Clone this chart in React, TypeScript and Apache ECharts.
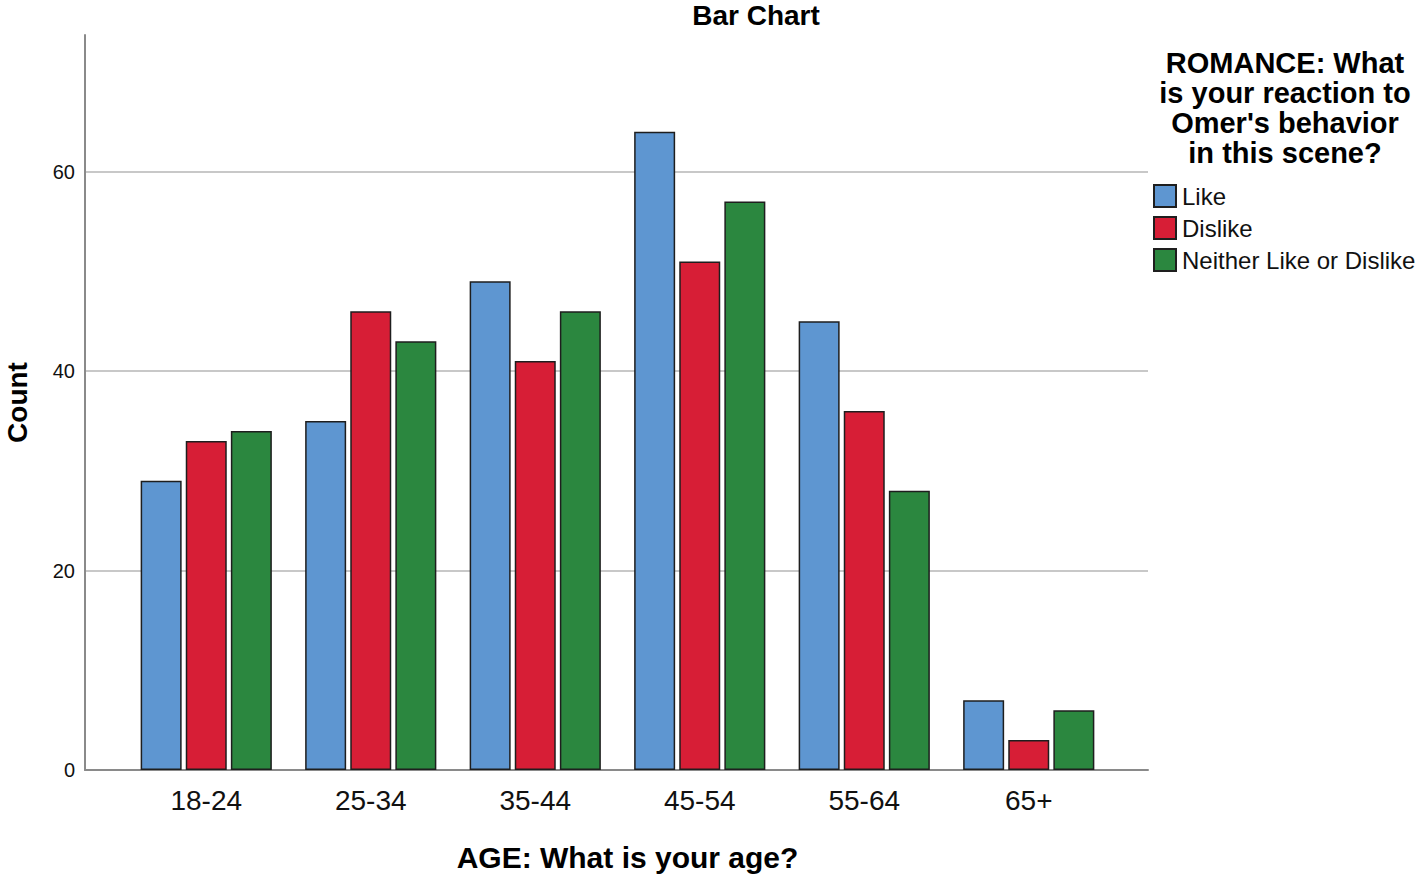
import React, { useEffect, useRef } from "react";
import * as echarts from "echarts";

const categories = ["18-24", "25-34", "35-44", "45-54", "55-64", "65+"];
const seriesNames = ["Like", "Dislike", "Neither Like or Dislike"];
const likeValues = [29, 35, 49, 64, 45, 7];
const dislikeValues = [33, 46, 41, 51, 36, 3];
const neitherValues = [34, 43, 46, 57, 28, 6];
const seriesColors = ["#5e96d1", "#d71e36", "#2b873f"];
const yTicks = { min: 0, max: 73.7, interval: 20 };
const chartTitle = "Bar Chart";
const legendTitle = "ROMANCE: What\nis your reaction to\nOmer's behavior\nin this scene?";
const xName = "AGE: What is your age?";
const yName = "Count";

const FONT = "'Liberation Sans', Arial, sans-serif";

export default function App() {
  const ref = useRef<HTMLDivElement>(null);
  useEffect(() => {
    if (!ref.current) return;
    const chart = echarts.init(ref.current, undefined, { renderer: "svg" });
    const values = [likeValues, dislikeValues, neitherValues];
    chart.setOption({
      animation: false,
      backgroundColor: "#ffffff",
      textStyle: { fontFamily: FONT },
      grid: [
        { left: 85, right: 269, top: 35, bottom: 106, outerBoundsMode: "none", containLabel: false },
        { left: 124, right: 306, top: 35, bottom: 106, outerBoundsMode: "none", containLabel: false },
      ],
      xAxis: [
        {
          type: "value",
          gridIndex: 0,
          min: 0,
          max: 1,
          axisLine: { show: true, lineStyle: { color: "#8a8a8a", width: 2 } },
          axisTick: { show: false },
          axisLabel: { show: false },
          splitLine: { show: false },
          name: xName,
          nameLocation: "middle",
          nameGap: 72,
          nameTextStyle: {
            fontSize: 30,
            fontWeight: "bold",
            color: "#000",
            fontFamily: FONT,
            padding: [0, 0, 0, 22],
          },
        },
        {
          type: "category",
          gridIndex: 1,
          data: categories,
          axisLine: { show: false },
          axisTick: { show: false },
          axisLabel: { fontSize: 28, color: "#111", margin: 16, fontFamily: FONT },
        },
      ],
      yAxis: [
        {
          type: "value",
          gridIndex: 0,
          min: yTicks.min,
          max: yTicks.max,
          interval: yTicks.interval,
          axisLine: { show: true, lineStyle: { color: "#8a8a8a", width: 2 } },
          axisTick: { show: false },
          axisLabel: { fontSize: 20, color: "#111", margin: 10, showMaxLabel: false, fontFamily: FONT },
          splitLine: {
            show: true,
            showMinLine: false,
            showMaxLine: false,
            lineStyle: { color: "#c8c8c8", width: 2 },
          },
          name: yName,
          nameLocation: "middle",
          nameRotate: 90,
          nameGap: 54,
          nameTextStyle: { fontSize: 28, fontWeight: "bold", color: "#000", fontFamily: FONT },
        },
        {
          type: "value",
          gridIndex: 1,
          min: yTicks.min,
          max: yTicks.max,
          interval: yTicks.interval,
          show: false,
          splitLine: { show: false },
        },
      ],
      legend: {
        orient: "vertical",
        left: 1153,
        top: 184,
        padding: 0,
        itemWidth: 22,
        itemHeight: 22,
        itemGap: 8,
        icon: "rect",
        data: seriesNames,
        textStyle: { fontSize: 24, color: "#111", fontFamily: FONT, padding: [0, 0, 0, 1] },
      },
      graphic: [
        {
          type: "text",
          x: 756,
          y: 15,
          style: {
            text: chartTitle,
            fontSize: 28,
            fontWeight: "bold",
            fill: "#000",
            fontFamily: FONT,
            align: "center",
            verticalAlign: "middle",
          },
        },
        {
          type: "text",
          x: 1285,
          y: 48,
          style: {
            text: legendTitle,
            fontSize: 29,
            lineHeight: 30,
            fontWeight: "bold",
            fill: "#000",
            fontFamily: FONT,
            align: "center",
            verticalAlign: "top",
          },
        },
      ],
      series: seriesNames.map((name, i) => ({
        name,
        type: "bar",
        xAxisIndex: 1,
        yAxisIndex: 1,
        data: values[i],
        barWidth: 41,
        barGap: "10%",
        itemStyle: { color: seriesColors[i], borderColor: "#1e1e1e", borderWidth: 1.5 },
      })),
    });
    return () => chart.dispose();
  }, []);
  return (
    <div
      ref={ref}
      style={{ position: "fixed", left: 0, top: 0, width: 1417, height: 876 }}
    />
  );
}
